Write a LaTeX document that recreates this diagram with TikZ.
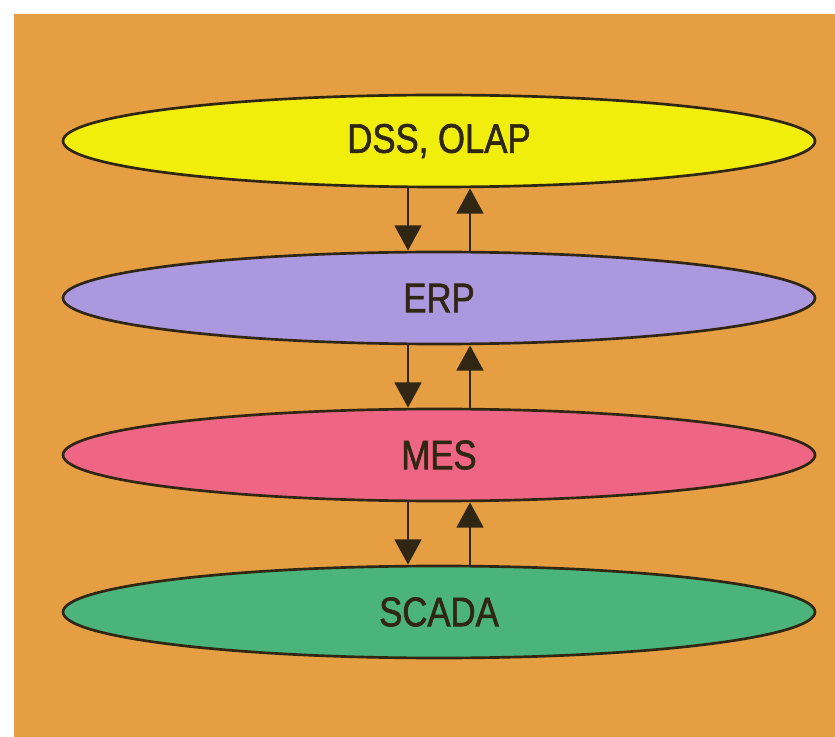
\documentclass[tikz,border=0pt]{standalone}
\usepackage{fontspec}
\setmainfont{Liberation Sans}
\newfontfamily\layerfont[FakeStretch=0.84,FakeBold=1.4]{Liberation Sans}
\usetikzlibrary{shapes.geometric,arrows.meta}
\definecolor{panelbg}{RGB}{230,158,66}
\definecolor{ink}{RGB}{48,38,20}
\definecolor{dssfill}{RGB}{240,238,10}
\definecolor{erpfill}{RGB}{172,152,222}
\definecolor{mesfill}{RGB}{238,102,132}
\definecolor{scadafill}{RGB}{74,180,122}
\begin{document}
\begin{tikzpicture}[x=0.75pt,y=-0.75pt,
  layer/.style={ellipse,draw=ink,line width=2pt,minimum width=564pt,minimum height=69pt,
    inner sep=0pt,font=\layerfont\fontsize{31}{31}\selectfont,text=ink},
  flow/.style={draw=ink,line width=2.2pt,-{Triangle[width=20pt,length=19pt]}}]
  \useasboundingbox (0,0) rectangle (835,737);
  \fill[white] (0,0) rectangle (835,737);
  \fill[panelbg] (14,14) rectangle (835,737);

  \node[layer,fill=dssfill]   (dss)   at (439,141) {DSS, OLAP};
  \node[layer,fill=erpfill]   (erp)   at (439,298) {ERP};
  \node[layer,fill=mesfill]   (mes)   at (439,455) {MES};
  \node[layer,fill=scadafill] (scada) at (439,612) {SCADA};

  \foreach \upper/\lower in {dss/erp,erp/mes,mes/scada}{
    \draw[flow] ([xshift=-23.25pt]\upper.south) -- ([xshift=-23.25pt]\lower.north);
    \draw[flow] ([xshift=23.25pt]\lower.north) -- ([xshift=23.25pt]\upper.south);
  }
\end{tikzpicture}
\end{document}
